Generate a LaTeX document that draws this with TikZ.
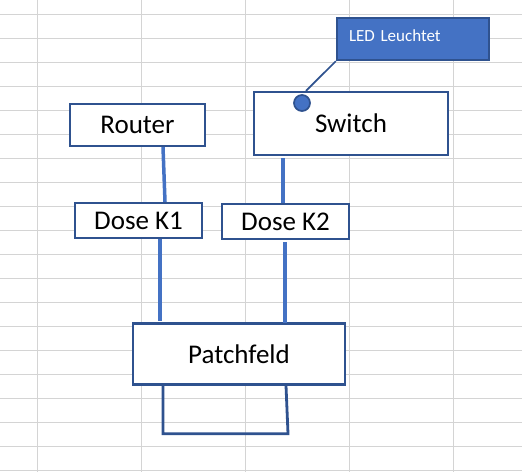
\documentclass[tikz,border=0pt]{standalone}
\usepackage{fontspec}
\setmainfont{Carlito}
\definecolor{gridc}{HTML}{D4D4D4}
\definecolor{edgeb}{HTML}{2F528F}
\definecolor{lineb}{HTML}{4472C4}
\tikzset{
  box/.style={draw=edgeb, line width=2.3pt, fill=white, rectangle, inner sep=0pt,
    font=\fontsize{27}{32}\selectfont, text=black},
  cable/.style={draw=lineb, line width=3.5pt},
  loopline/.style={draw=edgeb, line width=2.8pt, line join=miter},
  gridline/.style={draw=gridc, line width=1pt}
}
\begin{document}
\begin{tikzpicture}[x=1pt,y=-1pt]
\useasboundingbox (0,0) rectangle (522,472);
\fill[white] (0,0) rectangle (522,472);
% grid
\foreach \gx in {37.5,141.5,245.5,349.5,453.5} \draw[gridline] (\gx,0) -- (\gx,472);
\foreach \k in {0,...,19} \draw[gridline] (0,14.3+24*\k) -- (522,14.3+24*\k);
% nodes
\node[box, minimum width=135pt, minimum height=42pt] (router) at (137.5,125) {Router};
\node[box, minimum width=194pt, minimum height=63pt] (sw) at (351,123.5) {Switch};
\node[box, minimum width=127pt, minimum height=35pt] (k1) at (138.5,220.5) {Dose K1};
\node[box, minimum width=127pt, minimum height=35pt] (k2) at (285.5,221.5) {Dose K2};
\node[box, minimum width=212pt, minimum height=61pt] (patch) at (239,354) {Patchfeld};
\node[draw=edgeb, line width=2.3pt, fill=lineb, minimum width=152pt, minimum height=42pt,
  inner xsep=12pt, inner ysep=0pt, text width=128pt, align=left, text=white,
  font=\fontsize{17}{20}\selectfont, text height=12pt, text depth=7.4pt] (led) at (413,39) {LED Leuchtet};
% callout
\draw[edgeb, line width=1.7pt] (led.south west) -- ([xshift=-45pt]sw.north);
\node[circle, draw=edgeb, line width=1.7pt, fill=lineb, minimum size=16pt, inner sep=0pt] (dot) at (302,103) {};
% cables
\draw[cable] ([xshift=25.5pt]router.south) -- ([xshift=26.5pt]k1.north);
\draw[cable] ([xshift=-68pt,yshift=-2pt]sw.south) -- ([xshift=-2.5pt]k2.north);
\draw[cable] ([xshift=21.5pt]k1.south) -- ([xshift=-79pt,yshift=1pt]patch.north);
\draw[cable] ([xshift=-0.5pt,yshift=-2pt]k2.south) -- ([xshift=46pt,yshift=-1pt]patch.north);
% loop below patch panel
\draw[loopline] ([xshift=-76pt]patch.south) -- ([xshift=-76pt,yshift=-48pt]patch.south)
  -- ([xshift=49pt,yshift=-48pt]patch.south) -- ([xshift=47pt]patch.south);
\end{tikzpicture}
\end{document}
